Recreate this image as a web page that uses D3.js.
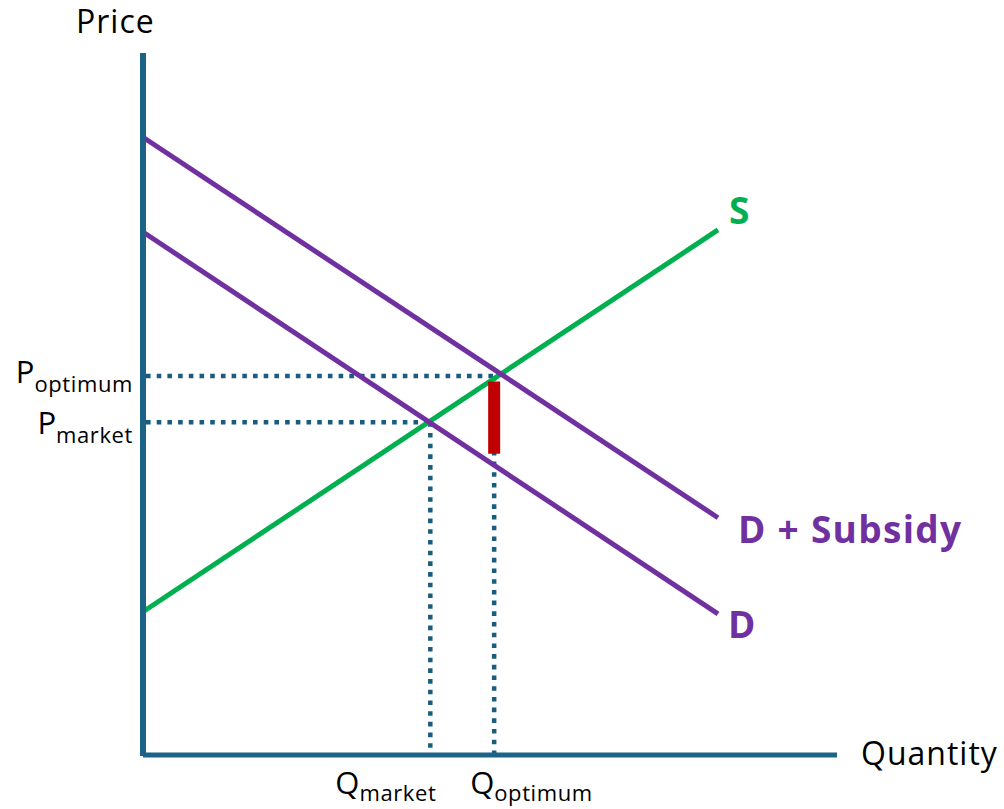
<!DOCTYPE html>
<html>
<head>
<meta charset="utf-8">
<script src="https://cdn.jsdelivr.net/npm/d3@7"></script>
<style>
  body { margin: 0; background: #fff; }
  text { font-family: "Open Sans", sans-serif; }
</style>
</head>
<body>
<div id="chart"></div>
<script>
// curves: price at quantity 0 and at the end quantity
var curveNames = ["S", "D", "D + Subsidy"];
var curveStartP = [20.4, 74.5, 88.0];
var curveEndP = [74.8, 20.1, 33.8];
var curveEndQ = 82.85;
var curveColors = ["#00b050", "#7030a0", "#7030a0"];

// equilibria
var eqNames = ["market", "optimum"];
var eqQ = [41.4, 50.6];
var eqP = [47.4, 54.0];

// subsidy bar
var subsidyQ = 50.6;
var subsidyP = [42.9, 53.2];

var width = 1004, height = 809;

var svg = d3.select("#chart").append("svg")
	.attr("width", width)
	.attr("height", height);

var x = d3.scaleLinear().domain([0, 100]).range([143, 837]);
var y = d3.scaleLinear().domain([0, 100]).range([755, 53]);

var axisColor = "#1d6388";
var dotColor = "#1a5c7e";

// dotted guides
eqQ.forEach(function(q, i) {
	svg.append("line")
		.attr("x1", x(0) + 3).attr("y1", y(eqP[i]))
		.attr("x2", x(q) + 3).attr("y2", y(eqP[i]))
		.attr("stroke", dotColor).attr("stroke-width", 4.5)
		.attr("stroke-dasharray", "4.6,6.1");
	svg.append("line")
		.attr("x1", x(q)).attr("y1", y(eqP[i]))
		.attr("x2", x(q)).attr("y2", y(0) - 2)
		.attr("stroke", dotColor).attr("stroke-width", 4.5)
		.attr("stroke-dasharray", "4.6,6.1");
});

// curves
curveNames.forEach(function(name, i) {
	svg.append("line")
		.attr("x1", x(0)).attr("y1", y(curveStartP[i]))
		.attr("x2", x(curveEndQ)).attr("y2", y(curveEndP[i]))
		.attr("stroke", curveColors[i]).attr("stroke-width", 5);
});

// subsidy bar
svg.append("line")
	.attr("x1", x(subsidyQ)).attr("y1", y(subsidyP[0]))
	.attr("x2", x(subsidyQ)).attr("y2", y(subsidyP[1]))
	.attr("stroke", "#c00000").attr("stroke-width", 12);

// axes
svg.append("line")
	.attr("x1", x(0)).attr("y1", y(100))
	.attr("x2", x(0)).attr("y2", y(0) + 1)
	.attr("stroke", axisColor).attr("stroke-width", 6);
svg.append("line")
	.attr("x1", x(0)).attr("y1", y(0))
	.attr("x2", x(100)).attr("y2", y(0))
	.attr("stroke", axisColor).attr("stroke-width", 5);

// axis titles
svg.append("text").attr("x", 76).attr("y", 33)
	.attr("font-size", 32).attr("letter-spacing", 1)
	.attr("fill", "#000").text("Price");
svg.append("text").attr("x", 861).attr("y", 765)
	.attr("font-size", 32).attr("letter-spacing", 1)
	.attr("fill", "#000").text("Quantity");

// curve labels
var labelDx = [11, 10, 20];
var labelDy = [-6, 24, 25];
curveNames.forEach(function(name, i) {
	svg.append("text")
		.attr("x", x(curveEndQ) + labelDx[i])
		.attr("y", y(curveEndP[i]) + labelDy[i])
		.attr("font-size", 37).attr("font-weight", "bold")
		.attr("letter-spacing", 1.3)
		.attr("fill", curveColors[i]).text(name);
});

// price labels
var pLabelDy = [12, 7];
eqNames.forEach(function(name, i) {
	var t = svg.append("text")
		.attr("x", 133).attr("y", y(eqP[i]) + pLabelDy[i])
		.attr("text-anchor", "end").attr("fill", "#000");
	t.append("tspan").attr("font-size", 31).text("P");
	t.append("tspan").attr("font-size", 22).attr("letter-spacing", 0.6)
		.attr("dy", 9).text(name);
});

// quantity labels
var qLabelDx = [-95, -24];
eqNames.forEach(function(name, i) {
	var t = svg.append("text")
		.attr("x", x(eqQ[i]) + qLabelDx[i]).attr("y", 794)
		.attr("fill", "#000");
	t.append("tspan").attr("font-size", 31).text("Q");
	t.append("tspan").attr("font-size", 22).attr("letter-spacing", 0.6)
		.attr("dy", 7).text(name);
});
</script>
</body>
</html>
